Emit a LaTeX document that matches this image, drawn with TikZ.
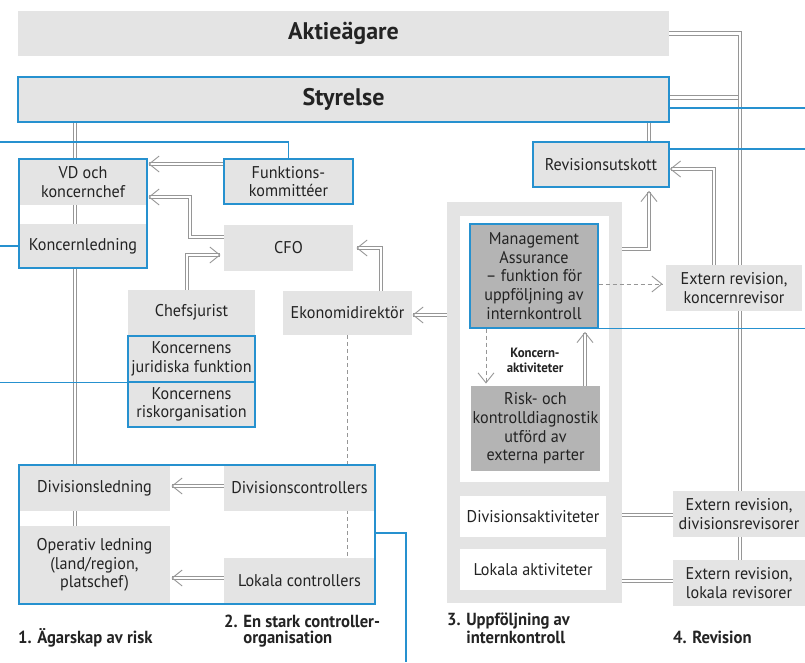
\documentclass[tikz,border=0pt]{standalone}
\usepackage{fontspec}
\setmainfont{PT Sans}[FakeStretch=0.95]
\newfontfamily\bigfont{PT Sans}
\usetikzlibrary{calc,decorations.markings}
\pgfdeclarelayer{background}
\pgfsetlayers{background,main}
\definecolor{boxgray}{RGB}{228,228,228}
\definecolor{darkbox}{RGB}{180,180,180}
\definecolor{bblue}{RGB}{38,145,207}
\definecolor{lgray}{RGB}{150,150,150}
\definecolor{txt}{RGB}{35,35,35}
\tikzset{
  box/.style={fill=boxgray, draw=none, text=txt, align=center, inner sep=0pt, font=\fontsize{17}{18.6}\selectfont},
  bigtext/.style={font=\bigfont\bfseries\fontsize{24}{26}\selectfont},
  bbox/.style={box, draw=bblue, line width=1.2pt},
  dbox/.style={box, fill=darkbox},
  wbox/.style={box, fill=white},
  outlinebox/.style={draw=bblue, line width=1.2pt, fill=none, inner sep=0pt},
  dbl/.style={draw=lgray, line width=0.9pt, double=white, double distance=2.4pt},
  headline/.style={draw=lgray, line width=0.9pt, solid},
  chev/.style={postaction={decorate}, decoration={markings, mark=at position 1 with {\draw[headline] (-10pt,8pt) -- (0pt,0pt) -- (-10pt,-8pt);}}},
  dar/.style={dbl, chev},
  dashln/.style={draw=lgray, line width=0.9pt, dash pattern=on 4pt off 3pt},
  blueln/.style={draw=bblue, line width=1.2pt},
  head/.style={font=\bfseries\fontsize{17.5}{16}\selectfont, text=txt, anchor=base west, align=left, inner sep=0pt},
}
\begin{document}
\begin{tikzpicture}[x=1pt,y=-1pt]
\useasboundingbox (0,0) rectangle (805,662);
\coordinate (L) at (0,0);
\coordinate (R) at (805,0);
\coordinate (B) at (406,662);
% internal control frame
\node[fill=boxgray, minimum width=175pt, minimum height=401pt, inner sep=0pt] (frame) at (534.5,402.5) {};
\node[wbox, minimum width=149pt, minimum height=266pt] (inw) at (534.5,349) {};
\node[wbox, minimum width=146pt, minimum height=41pt] (dak) at (533,516.5) {Divisionsaktiviteter};
\node[wbox, minimum width=146pt, minimum height=41pt] (lak) at (533,569.5) {Lokala aktiviteter};
% top
\node[box, bigtext, minimum width=651pt, minimum height=45pt] (akt) at (343.5,33.5) {Aktieägare};
\node[bbox, bigtext, minimum width=651pt, minimum height=45pt] (sty) at (343.5,99.5) {Styrelse};
% left column
\node[box, minimum width=128pt, minimum height=46pt] (vd) at (83,182) {VD och\\koncernchef};
\node[box, minimum width=128pt, minimum height=44pt] (kl) at (83,246) {Koncernledning};
\node[outlinebox, minimum width=128pt, minimum height=109pt] (vdbox) at (83,213.5) {};
\node[bbox, minimum width=129pt, minimum height=45pt] (fk) at (288.5,181.5) {Funktions-\\kommittéer};
\node[box, minimum width=129pt, minimum height=46pt] (cfo) at (288.5,248) {CFO};
\node[box, minimum width=127pt, minimum height=45pt] (chef) at (191.5,312.5) {Chefsjurist};
\node[bbox, minimum width=127pt, minimum height=46pt] (kjf) at (191.5,359) {Koncernens\\juridiska funktion};
\node[bbox, minimum width=127pt, minimum height=45pt] (krisk) at (191.5,404.5) {Koncernens\\riskorganisation};
\node[box, minimum width=129pt, minimum height=44pt] (eko) at (347.5,313) {Ekonomidirektör};
% right side
\node[bbox, minimum width=136pt, minimum height=45pt] (rev) at (601,164.5) {Revisionsutskott};
\node[dbox, draw=bblue, line width=1.2pt, minimum width=128pt, minimum height=104pt] (ma) at (534,276) {Management\\Assurance\\– funktion för\\uppföljning av\\internkontroll};
\node[dbox, minimum width=129pt, minimum height=85pt] (risk) at (535.5,428.5) {Risk- och\\kontrolldiagnostik\\utförd av\\externa parter};
\node[font=\bfseries\fontsize{13.5}{14.5}\selectfont, text=txt, align=center, inner sep=0pt] (kak) at (535,360.5) {Koncern-\\aktiviteter};
\node[box, minimum width=136pt, minimum height=46pt] (extk) at (734,288) {Extern revision,\\koncernrevisor};
\node[box, minimum width=132pt, minimum height=46pt] (extd) at (739,514) {Extern revision,\\divisionsrevisorer};
\node[box, minimum width=132pt, minimum height=46pt] (extl) at (739,583) {Extern revision,\\lokala revisorer};
% division block
\node[box, minimum width=151pt, minimum height=46pt] (divl) at (94.5,488) {Divisionsledning};
\node[box, minimum width=151pt, minimum height=46pt] (divc) at (299.5,488) {Divisionscontrollers};
\node[box, minimum width=151pt, minimum height=78pt] (opl) at (94.5,565) {Operativ ledning\\(land/region,\\platschef)};
\node[box, minimum width=151pt, minimum height=46pt] (lokc) at (299.5,581) {Lokala controllers};
\node[outlinebox, minimum width=356pt, minimum height=139pt] (divbox) at (197,534.5) {};
% headings
\node[head] (h1) at (18,643) {1. Ägarskap av risk};
\node[head] (h2) at (224,643) {2. En stark controller-\\\phantom{2. }organisation};
\node[head] (h3) at (447,643) {3. Uppföljning av\\\phantom{3. }internkontroll};
\node[head] (h4) at (673,643) {4. Revision};
% lines behind boxes
\begin{pgfonlayer}{background}
\draw[dbl] (sty.south -| 75,0) -- (opl.north -| 75,0);
\draw[dbl] (sty.south -| 649,0) -- (rev.north -| 649,0);
\draw[dbl] (sty.east |- 0,97.5) -- (740,97.5);
\draw[dbl] (akt.east) -| (extd.north -| 740,0);
\draw[dashln] (eko.south) -- (eko.south |- lokc.north);
\end{pgfonlayer}
% double connectors
\draw[dbl] (extd.south -| 740,0) -- (extl.north -| 740,0);
\draw[dbl] (frame.east |- 0,515) -- (extd.west |- 0,515);
\draw[dbl] (frame.east |- 0,581) -- (extl.west |- 0,581);
% arrows
\draw[dar] (fk.west |- 0,164) -- ($(vd.east |- 0,164)+(2,0)$);
\draw[dar] (cfo.west |- 0,237) -- (190,237) -- (190,197) -- ($(vd.east |- 0,197)+(2,0)$);
\draw[dar] (chef.north -| 187,0) -- (187,255) -- ($(cfo.west |- 0,255)+(-4,0)$);
\draw[dar] (eko.north -| 381,0) -- (381,248) -- ($(cfo.east)+(4,0)$);
\draw[dar] (frame.west |- 0,315) -- ($(eko.east |- 0,315)+(1,0)$);
\draw[dar] (frame.east |- 0,249) -- (649,249) -- ($(rev.south -| 649,0)+(0,4)$);
\draw[dar] (extk.north -| 714,0) -- (714,169) -- ($(rev.east |- 0,169)+(1,0)$);
\draw[dar] (risk.north -| 585,0) -- ($(ma.south -| 585,0)+(0,4)$);
\draw[dar] (divc.west |- 0,486) -- ($(divl.east |- 0,486)+(2,0)$);
\draw[dar] (lokc.west |- 0,578) -- ($(opl.east |- 0,578)+(2,0)$);
\draw[dashln, chev] (ma.east |- 0,284) -- ($(extk.west |- 0,284)+(-4,0)$);
\draw[dashln, chev] (ma.south -| 486,0) -- ($(risk.north -| 486,0)+(0,-3)$);
% blue lines
\draw[blueln] (sty.east |- 0,108) -- (R |- 0,108);
\draw[blueln] (rev.east |- 0,149) -- (R |- 0,149);
\draw[blueln] (ma.south east) -- (ma.south east -| R);
\draw[blueln] (fk.north) |- (L |- 0,142);
\draw[blueln] (kl.west) -- (kl.west -| L);
\draw[blueln] (kjf.south west) -- (kjf.south west -| L);
\draw[blueln] (divbox.east |- 0,533) -| (B);
\end{tikzpicture}
\end{document}
